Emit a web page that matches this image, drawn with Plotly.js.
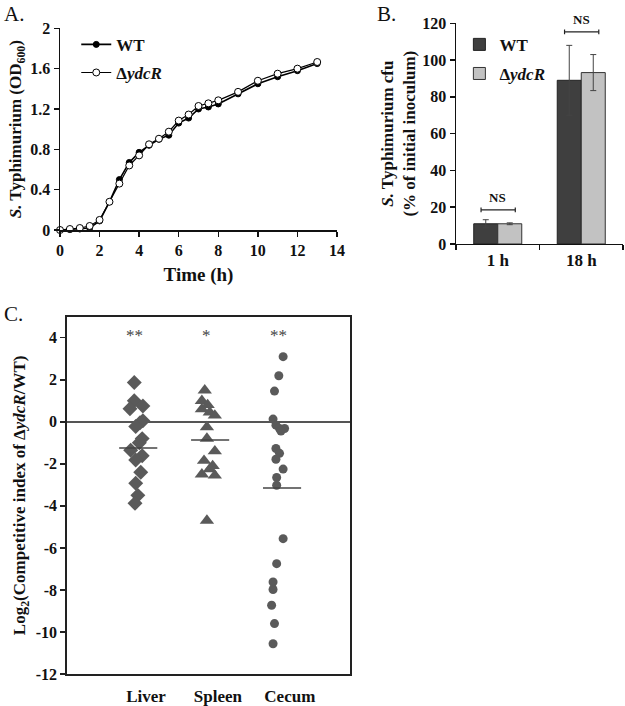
<!DOCTYPE html>
<html>
<head>
<meta charset="utf-8">
<script src="https://cdn.plot.ly/plotly-3.0.1.min.js"></script>
<style>html,body{margin:0;padding:0;background:#fff;} #chart{width:625px;height:706px;}</style>
</head>
<body>
<div id="chart"></div>
<script>
// ---------- Panel A: growth curve ----------
const timeH   = [0,0.5,1,1.5,2,2.5,3,3.5,4,4.5,5,5.5,6,6.5,7,7.5,8,9,10,11,12,13];
const odWT    = [0,0.005,0.01,0.02,0.09,0.28,0.50,0.67,0.77,0.84,0.90,0.94,1.06,1.11,1.20,1.22,1.25,1.35,1.45,1.52,1.58,1.65];
const odYdcR  = [0,0.01,0.02,0.04,0.10,0.28,0.46,0.64,0.74,0.85,0.905,0.975,1.085,1.145,1.23,1.256,1.286,1.37,1.48,1.55,1.60,1.666];
const seriesNames = ['WT', '\u0394<i>ydcR</i>'];

// ---------- Panel B: survival ----------
const timepoints = ['1 h', '18 h'];
const cfuWT      = [11, 89];
const cfuWTErr   = [2.2, 19];
const cfuYdcR    = [11, 93.2];
const cfuYdcRErr = [0.5, 9.8];
const nsLabels   = ['NS', 'NS'];

// ---------- Panel C: competitive index ----------
const organs   = ['Liver', 'Spleen', 'Cecum'];
const liverCI  = [1.87,1.0,0.75,0.62,0.05,-0.05,-0.22,-0.8,-1.0,-1.35,-1.62,-1.82,-2.4,-2.92,-3.5,-3.88];
const liverJit = [-0.01,-0.01,0.11,-0.07,0.11,0.07,0.01,0.10,0.06,-0.06,0.10,0.01,0.08,0.01,0.04,0.00];
const spleenCI  = [1.5,1.0,0.8,0.6,0.45,0.3,-0.25,-0.8,-1.4,-1.85,-2.1,-2.25,-2.5,-2.55,-4.7];
const spleenJit = [-0.03,-0.07,0.01,-0.07,0.04,0.11,0,0,0.11,-0.04,0.08,0.04,-0.07,0.11,0];
const cecumCI  = [3.1,2.19,1.46,0.13,-0.16,-0.32,-0.32,-0.44,-1.27,-1.5,-1.78,-2.25,-2.65,-3.02,-5.56,-6.75,-7.62,-7.98,-8.73,-9.6,-10.56];
const cecumJit = [0.06,0,-0.06,-0.08,-0.04,0.01,0.08,0.03,-0.04,0.01,-0.04,0.06,-0.03,-0.03,0.06,-0.03,-0.08,-0.08,-0.10,-0.06,-0.08];
const organMeans = [-1.25, -0.87, -3.15];
const organSig   = ['**', '*', '**'];
const ciTicks    = [4,2,0,-2,-4,-6,-8,-10,-12];

// ---------- styling ----------
const SERIF = 'Liberation Serif, Times New Roman, serif';
const tickFont = {family: SERIF, size: 16, color: '#111', weight: 'bold'};
const titleFont = {family: SERIF, size: 17, color: '#111', weight: 'bold'};
const dotColor = '#5a5a5a';

const traces = [];

// Panel A
traces.push({
  x: timeH, y: odWT, name: seriesNames[0], type: 'scatter', mode: 'lines+markers',
  xaxis: 'x', yaxis: 'y', legend: 'legend', legendgroup: 'a1', cliponaxis: false,
  line: {color: '#000', width: 1.6},
  marker: {symbol: 'circle', size: 6, color: '#000', line: {color: '#000', width: 1}}
});
traces.push({
  x: timeH, y: odYdcR, name: seriesNames[1], type: 'scatter', mode: 'lines+markers',
  xaxis: 'x', yaxis: 'y', legend: 'legend', legendgroup: 'a2', cliponaxis: false,
  line: {color: '#000', width: 1.2},
  marker: {symbol: 'circle', size: 7, color: '#fff', line: {color: '#000', width: 1}}
});

// Panel B
traces.push({
  x: timepoints, y: cfuWT, name: seriesNames[0], type: 'bar',
  xaxis: 'x2', yaxis: 'y2', legend: 'legend2', legendgroup: 'b1',
  marker: {color: '#3f3f3f', line: {color: '#222', width: 1}},
  error_y: {type: 'data', array: cfuWTErr, visible: true, color: '#444', thickness: 1, width: 3}
});
traces.push({
  x: timepoints, y: cfuYdcR, name: seriesNames[1], type: 'bar',
  xaxis: 'x2', yaxis: 'y2', legend: 'legend2', legendgroup: 'b2',
  marker: {color: '#c2c2c2', line: {color: '#333', width: 1}},
  error_y: {type: 'data', array: cfuYdcRErr, visible: true, color: '#444', thickness: 1, width: 3}
});

// Panel C
const groups = [
  {vals: liverCI, jit: liverJit, sym: 'diamond', size: 11.5},
  {vals: spleenCI, jit: spleenJit, sym: 'triangle-up', size: 12.5},
  {vals: cecumCI, jit: cecumJit, sym: 'circle', size: 9}
];
groups.forEach((g, i) => {
  traces.push({
    x: g.jit.map(j => i + 1 + j), y: g.vals, type: 'scatter', mode: 'markers',
    xaxis: 'x3', yaxis: 'y3', showlegend: false, name: organs[i],
    marker: {symbol: g.sym, size: g.size, color: dotColor, line: {width: 0}}
  });
  traces.push({
    x: [i + 1 - 0.22, i + 1 + 0.31], y: [organMeans[i], organMeans[i]], type: 'scatter', mode: 'lines',
    xaxis: 'x3', yaxis: 'y3', showlegend: false, hoverinfo: 'skip',
    line: {color: '#444', width: 1.5}
  });
});

const annotations = [
  {text: 'A.', x: 0.003, y: 1.0, xref: 'paper', yref: 'paper', xanchor: 'left', yanchor: 'top', showarrow: false,
   font: {family: SERIF, size: 21, color: '#111'}},
  {text: 'B.', x: 0.600, y: 1.0, xref: 'paper', yref: 'paper', xanchor: 'left', yanchor: 'top', showarrow: false,
   font: {family: SERIF, size: 21, color: '#111'}},
  {text: 'C.', x: 0.003, y: 0.575, xref: 'paper', yref: 'paper', xanchor: 'left', yanchor: 'top', showarrow: false,
   font: {family: SERIF, size: 21, color: '#111'}}
];
const shapes = [];

// NS brackets in panel B
const nsY = [18.5, 115.3];
nsLabels.forEach((t, i) => {
  annotations.push({text: t, x: i, y: nsY[i], xref: 'x2', yref: 'y2', yanchor: 'bottom', yshift: 3, showarrow: false,
    font: {family: SERIF, size: 13, color: '#111', weight: 'bold'}});
  shapes.push({type: 'line', xref: 'x2', yref: 'y2', x0: i - 0.2, x1: i + 0.21, y0: nsY[i], y1: nsY[i], line: {color: '#222', width: 1.2}});
  [i - 0.2, i + 0.21].forEach(xx => shapes.push({type: 'line', xref: 'x2', yref: 'y2', x0: xx, x1: xx, y0: nsY[i] - 1.3, y1: nsY[i] + 1.3, line: {color: '#222', width: 1.2}}));
});

// significance stars in panel C
organSig.forEach((s, i) => {
  annotations.push({text: s, x: i + 1, y: 4.1, xref: 'x3', yref: 'y3', showarrow: false,
    font: {family: SERIF, size: 17, color: '#444'}});
});

const layout = {
  width: 625, height: 706,
  margin: {l: 0, r: 0, t: 0, b: 0},
  paper_bgcolor: '#fff', plot_bgcolor: '#fff',
  showlegend: true,
  barmode: 'group', bargap: 0.425, bargroupgap: 0,
  font: {family: SERIF, color: '#111'},
  annotations: annotations,
  shapes: shapes,
  // Panel A axes
  xaxis: {
    domain: [0.096, 0.5392], anchor: 'y', range: [0, 14], dtick: 2, tick0: 0,
    showline: true, linecolor: '#111', linewidth: 1.5, ticks: 'outside', ticklen: 5, tickcolor: '#111', tickwidth: 1.5,
    showgrid: false, zeroline: false, tickfont: tickFont,
    title: {text: 'Time (h)', font: {family: SERIF, size: 19, color: '#111', weight: 'bold'}, standoff: 10}
  },
  yaxis: {
    domain: [0.6742, 0.9599], anchor: 'x', range: [0, 2], dtick: 0.4, tick0: 0,
    showline: true, linecolor: '#111', linewidth: 1.5, ticks: 'outside', ticklen: 5, tickcolor: '#111', tickwidth: 1.5,
    showgrid: false, zeroline: false, tickfont: tickFont,
    title: {text: '<i>S.</i> Typhimurium (OD<sub>600</sub>)', font: titleFont, standoff: 4}
  },
  // Panel B axes
  xaxis2: {
    domain: [0.7296, 0.9968], anchor: 'y2', type: 'category', range: [-0.5, 1.5],
    showline: true, linecolor: '#111', linewidth: 1.5, ticks: 'outside', tickson: 'boundaries', ticklen: 5, tickcolor: '#111', tickwidth: 1.5,
    showgrid: false, zeroline: false, tickfont: {family: SERIF, size: 17, color: '#111', weight: 'bold'}
  },
  yaxis2: {
    domain: [0.6544, 0.967], anchor: 'x2', range: [0, 120], dtick: 20, tick0: 0,
    showline: true, linecolor: '#111', linewidth: 1.5, ticks: 'outside', ticklen: 5, tickcolor: '#111', tickwidth: 1.5,
    showgrid: false, zeroline: false, tickfont: tickFont,
    title: {text: '<i>S.</i> Typhimurium cfu<br>(% of initial inoculum)', font: titleFont, standoff: 2}
  },
  // Panel C axes
  xaxis3: {
    domain: [0.1067, 0.56], anchor: 'y3', range: [0.05, 3.99],
    tickvals: [1, 2, 3], ticktext: organs, ticklabelshift: 11, ticklabelstandoff: 6,
    showline: true, mirror: true, linecolor: '#222', linewidth: 1.5, ticks: '', showgrid: false, zeroline: false,
    tickfont: {family: SERIF, size: 17, color: '#111', weight: 'bold'}
  },
  yaxis3: {
    domain: [0.0453, 0.5514], anchor: 'x3', range: [-12, 5],
    tickvals: ciTicks, ticktext: ciTicks.map(String),
    showline: true, mirror: true, linecolor: '#222', linewidth: 1.5, ticks: 'outside', ticklen: 5, tickcolor: '#222', tickwidth: 1.5,
    showgrid: false, zeroline: true, zerolinecolor: '#555', zerolinewidth: 1.5, tickfont: tickFont,
    title: {text: 'Log<sub>2</sub>(Competitive index of \u0394<i>ydcR</i>/WT)', font: titleFont, standoff: 5}
  },
  legend: {
    x: 0.122, y: 0.962, xanchor: 'left', yanchor: 'top', bgcolor: 'rgba(0,0,0,0)', borderwidth: 0,
    traceorder: 'grouped', tracegroupgap: 3,
    font: {family: SERIF, size: 17, color: '#111', weight: 'bold'}
  },
  legend2: {
    x: 0.735, y: 0.962, xanchor: 'left', yanchor: 'top', bgcolor: 'rgba(0,0,0,0)', borderwidth: 0,
    traceorder: 'grouped', tracegroupgap: 4,
    font: {family: SERIF, size: 17, color: '#111', weight: 'bold'}
  }
};

Plotly.newPlot('chart', traces, layout, {displayModeBar: false, staticPlot: true});
</script>
</body>
</html>
